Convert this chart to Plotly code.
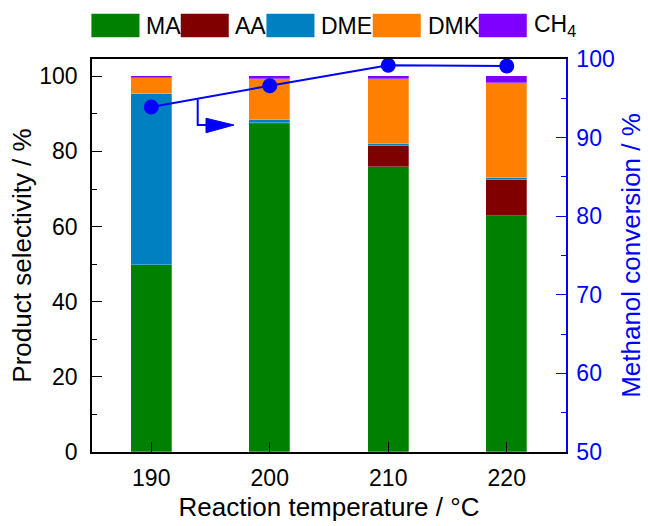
import plotly.graph_objects as go

temps = [190, 200, 210, 220]
series_names = ["MA", "AA", "DME", "DMK", "CH<sub>4</sub>"]
colors = ["#008000", "#800000", "#0080C0", "#FF8000", "#8000FF"]
MA = [49.8, 87.2, 75.9, 62.8]
AA = [0.0, 0.3, 5.6, 9.5]
DME = [45.4, 0.8, 0.4, 0.6]
DMK = [4.4, 11.1, 17.3, 25.4]
CH4 = [0.4, 0.6, 0.8, 1.7]
conversion = [93.9, 96.6, 99.2, 99.1]

FONT = "Liberation Sans, Arial, sans-serif"
fig = go.Figure()
for name, vals, c in zip(series_names, [MA, AA, DME, DMK, CH4], colors):
    fig.add_trace(go.Bar(x=temps, y=vals, name=name,
                         marker=dict(color=c, line=dict(width=0.6, color="rgba(255,255,255,0.45)")),
                         width=3.5, showlegend=False))

fig.add_trace(go.Scatter(x=temps, y=conversion, yaxis="y2", mode="lines+markers",
                         line=dict(color="#0000FF", width=2),
                         marker=dict(color="#0000FF", size=15), showlegend=False))

# arrow pointing to right axis
arrow_path = [(193.92, 94.85), (193.92, 91.6), (194.62, 91.6)]
head = [(194.62, 92.46), (196.98, 91.6), (194.62, 90.62)]
fig.add_shape(type="path", xref="x", yref="y2",
              path="M " + " L ".join(f"{a},{b}" for a, b in arrow_path),
              line=dict(color="#0000FF", width=2))
fig.add_shape(type="path", xref="x", yref="y2",
              path="M " + " L ".join(f"{a},{b}" for a, b in head) + " Z",
              fillcolor="#0000FF", line=dict(color="#0000FF", width=1))

# custom legend
box_x = [91.7, 181, 266.7, 373, 479]
box_w = 47.5
pw = 474.0
ph = 393.0
for nm, c, bx in zip(series_names, colors, box_x):
    x0 = (bx - 92) / pw
    x1 = (bx + box_w - 92) / pw
    fig.add_shape(type="rect", xref="paper", yref="paper", x0=x0, x1=x1,
                  y0=(452 - 37) / ph, y1=(452 - 14) / ph,
                  fillcolor=c, line=dict(color=c, width=0.5), opacity=1)
    fig.add_annotation(xref="paper", yref="paper", x=x1 + 5 / pw, y=(452 - 26) / ph,
                       text=nm, showarrow=False, xanchor="left", yanchor="middle",
                       font=dict(family=FONT, size=23, color="black"))

fig.update_layout(
    width=648, height=526, barmode="stack", bargap=0,
    paper_bgcolor="white", plot_bgcolor="white",
    margin=dict(l=92, r=82, t=59, b=74, autoexpand=False),
    font=dict(family=FONT, size=22, color="black"),
    xaxis=dict(range=[185, 225], tickvals=temps, ticks="inside", ticklen=10, tickwidth=1.2,
               tickcolor="black", showline=True, linecolor="black", linewidth=1.5,
               mirror=True, showgrid=False, zeroline=False, ticklabelstandoff=5,
               tickfont=dict(size=23), automargin=False,
               title=dict(text="Reaction temperature / °C", standoff=7)),
    yaxis=dict(range=[0, 104.6], tickvals=[0, 20, 40, 60, 80, 100], ticks="inside",
               ticklen=10, tickwidth=1.2, tickcolor="black", ticklabelstandoff=8,
               tickfont=dict(size=23), automargin=False,
               minor=dict(dtick=10, tick0=0, ticks="inside", ticklen=5, tickcolor="black"),
               showline=True, linecolor="black", linewidth=1.5, showgrid=False, zeroline=False,
               title=dict(text="Product selectivity / %", standoff=0)),
    yaxis2=dict(range=[50, 100], overlaying="y", side="right", tickvals=[50, 60, 70, 80, 90, 100],
                ticks="inside", ticklen=10, tickwidth=1.2, tickcolor="#0000FF",
                ticklabelstandoff=4, automargin=False,
                minor=dict(dtick=5, tick0=50, ticks="inside", ticklen=5, tickcolor="#0000FF"),
                showline=True, linecolor="#0000FF", linewidth=1.5, showgrid=False, zeroline=False,
                tickfont=dict(color="#0000FF", size=23),
                title=dict(text="Methanol conversion / %", font=dict(color="#0000FF"), standoff=8)),
)

fig.write_html("out.html")
